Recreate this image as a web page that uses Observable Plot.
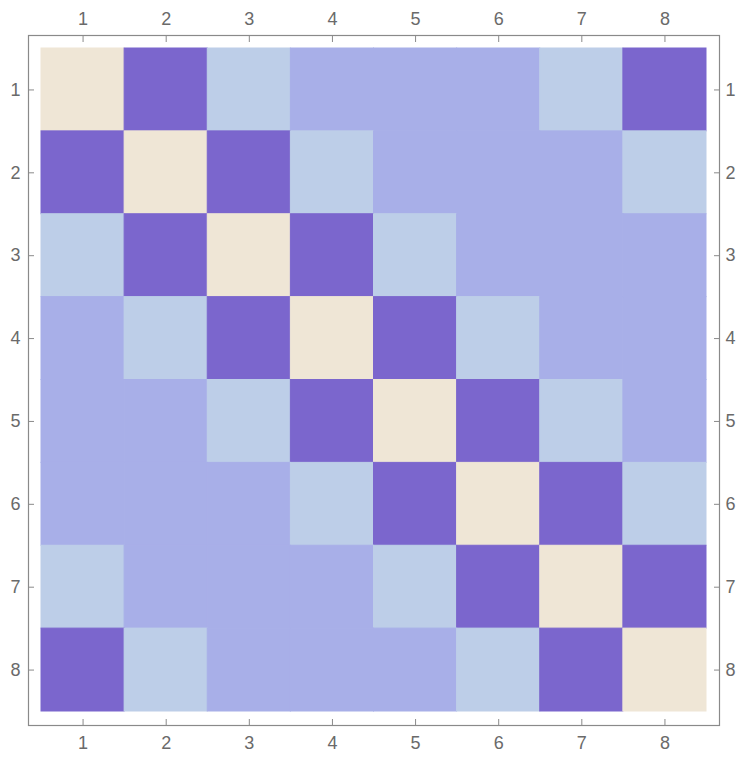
<!DOCTYPE html>
<html>
<head>
<meta charset="utf-8">
<script src="https://cdn.jsdelivr.net/npm/d3@7"></script>
<script src="https://cdn.jsdelivr.net/npm/@observablehq/plot@0.6"></script>
<style>
  html, body { margin: 0; padding: 0; background: #fff; }
  svg { display: block; }
</style>
</head>
<body>
<div id="chart"></div>
<script>
const rowLabels = [1, 2, 3, 4, 5, 6, 7, 8];
const colLabels = [1, 2, 3, 4, 5, 6, 7, 8];
// matrix values (cyclic distance classes)
const matrix = [
  [0, 1, 2, 3, 3, 3, 2, 1],
  [1, 0, 1, 2, 3, 3, 3, 2],
  [2, 1, 0, 1, 2, 3, 3, 3],
  [3, 2, 1, 0, 1, 2, 3, 3],
  [3, 3, 2, 1, 0, 1, 2, 3],
  [3, 3, 3, 2, 1, 0, 1, 2],
  [2, 3, 3, 3, 2, 1, 0, 1],
  [1, 2, 3, 3, 3, 2, 1, 0]
];
const valueDomain = [0, 1, 2, 3];
const valueColors = ["#efe6d6", "#7b66cd", "#bdcee8", "#a8afe8"];

const cells = [];
matrix.forEach((row, i) => row.forEach((v, j) => cells.push({row: rowLabels[i], col: colLabels[j], value: v})));

const FS = 18;
const chart = Plot.plot({
  width: 748,
  height: 765,
  marginLeft: 28,
  marginRight: 29,
  marginTop: 35,
  marginBottom: 40,
  style: {fontFamily: "Liberation Sans, Arial, sans-serif", fontSize: FS + "px", color: "#666", background: "#fff"},
  x: {type: "band", domain: colLabels, padding: 0, round: false, insetLeft: 13, insetRight: 13, axis: null, label: null},
  y: {type: "band", domain: rowLabels, padding: 0, round: false, insetTop: 13, insetBottom: 14, axis: null, label: null},
  color: {type: "ordinal", domain: valueDomain, range: valueColors},
  marks: [
    Plot.cell(cells, {x: "col", y: "row", fill: "value", stroke: "value", strokeWidth: 1, inset: 0}),
    Plot.frame({stroke: "#8a8a8a", strokeWidth: 1.2}),
    Plot.axisX({anchor: "top", label: null, tickSize: -6, tickPadding: 17, stroke: "#8a8a8a", fill: "#6a6a6a", fontSize: FS}),
    Plot.axisX({anchor: "bottom", label: null, tickSize: -6, tickPadding: 17, stroke: "#8a8a8a", fill: "#6a6a6a", fontSize: FS}),
    Plot.axisY({anchor: "left", label: null, tickSize: -6, tickPadding: 14, stroke: "#8a8a8a", fill: "#6a6a6a", fontSize: FS}),
    Plot.axisY({anchor: "right", label: null, tickSize: -6, tickPadding: 12, stroke: "#8a8a8a", fill: "#6a6a6a", fontSize: FS})
  ]
});
document.getElementById("chart").appendChild(chart);
</script>
</body>
</html>
